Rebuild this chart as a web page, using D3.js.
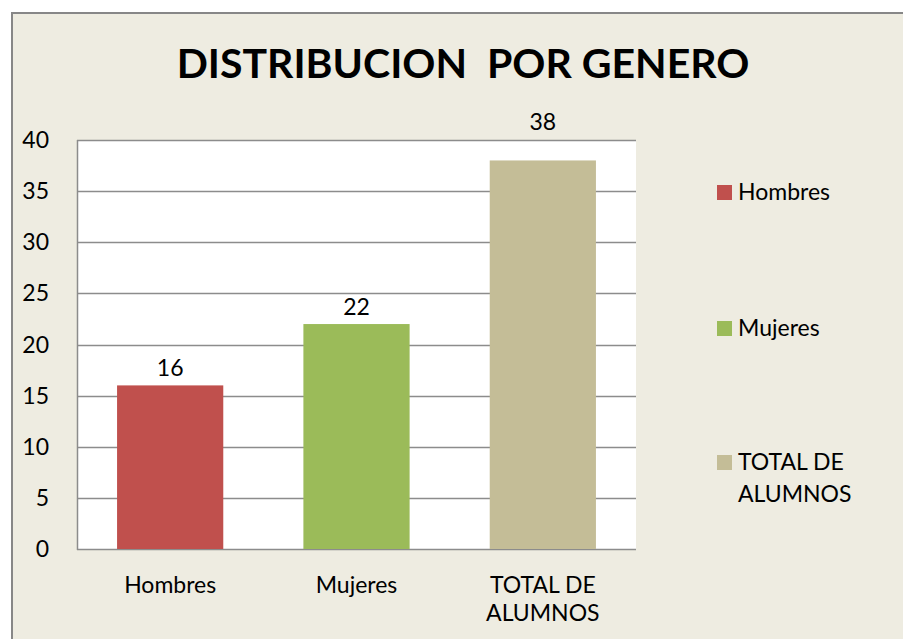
<!DOCTYPE html>
<html>
<head>
<meta charset="utf-8">
<script src="https://cdn.jsdelivr.net/npm/d3@7"></script>
<style>
  html, body { margin: 0; padding: 0; background: #fff; }
  svg { display: block; font-family: Lato, "Open Sans", sans-serif; }
</style>
</head>
<body>
<div id="chart"></div>
<script>
// data
const categories = ['Hombres', 'Mujeres', 'TOTAL DE ALUMNOS'];
const values = [16, 22, 38];
const colors = ['#C0504D', '#9BBB59', '#C4BD97'];
const yTicks = [0, 5, 10, 15, 20, 25, 30, 35, 40];
const title = 'DISTRIBUCION  POR GENERO';

const width = 903;
const height = 639;
const plot = {left: 77, right: 636, top: 140, bottom: 549};

const svg = d3.select('#chart')
    .append('svg')
    .attr('width', width)
    .attr('height', height);

// chart area background + border (runs off the right/bottom of the picture)
svg.append('rect')
    .attr('x', 12)
    .attr('y', 13)
    .attr('width', width + 10)
    .attr('height', height + 10)
    .attr('fill', '#EEECE1')
    .attr('stroke', '#878787')
    .attr('stroke-width', 2);

svg.append('text')
    .attr('x', 463)
    .attr('y', 78)
    .attr('text-anchor', 'middle')
    .attr('font-size', 41)
    .attr('font-weight', 'bold')
    .attr('fill', '#000')
    .style('white-space', 'pre')
    .text(title);

const x = d3.scaleBand()
    .domain(categories)
    .range([plot.left, plot.right])
    .paddingInner(0.43)
    .paddingOuter(0.215);

const y = d3.scaleLinear()
    .domain([0, 40])
    .range([plot.bottom, plot.top]);

// plot area
svg.append('rect')
    .attr('x', plot.left)
    .attr('y', plot.top)
    .attr('width', plot.right - plot.left)
    .attr('height', plot.bottom - plot.top)
    .attr('fill', '#fff');

// gridlines
svg.append('g')
    .selectAll('line')
    .data(yTicks)
    .join('line')
    .attr('x1', plot.left)
    .attr('x2', plot.right)
    .attr('y1', (d) => Math.round(y(d)) + 0.5)
    .attr('y2', (d) => Math.round(y(d)) + 0.5)
    .attr('stroke', '#8C8C8C')
    .attr('stroke-width', 1.5);

// left axis line
svg.append('line')
    .attr('x1', plot.left + 0.5)
    .attr('x2', plot.left + 0.5)
    .attr('y1', plot.top)
    .attr('y2', plot.bottom + 1)
    .attr('stroke', '#8C8C8C')
    .attr('stroke-width', 1.5);

// y tick labels
svg.append('g')
    .selectAll('text')
    .data(yTicks)
    .join('text')
    .attr('x', 49)
    .attr('y', (d) => y(d) + 8)
    .attr('text-anchor', 'end')
    .attr('font-size', 23)
    .attr('fill', '#000')
    .text((d) => d);

// bars
svg.append('g')
    .selectAll('rect')
    .data(values)
    .join('rect')
    .attr('x', (d, i) => x(categories[i]))
    .attr('y', (d) => y(d))
    .attr('width', x.bandwidth())
    .attr('height', (d) => y(0) - y(d))
    .attr('fill', (d, i) => colors[i]);

// value labels (pushed above the plot when they would cross its top edge)
const labelY = (d) => {
  const base = y(d) - 9;
  return base - 17 < plot.top ? plot.top - 10 : base;
};
svg.append('g')
    .selectAll('text')
    .data(values)
    .join('text')
    .attr('x', (d, i) => x(categories[i]) + x.bandwidth() / 2)
    .attr('y', labelY)
    .attr('text-anchor', 'middle')
    .attr('font-size', 23)
    .attr('fill', '#000')
    .text((d) => d);

// category labels
const catLines = (c) => c === 'TOTAL DE ALUMNOS' ? ['TOTAL DE', 'ALUMNOS'] : [c];
svg.append('g')
    .selectAll('text')
    .data(categories)
    .join('text')
    .attr('x', (d) => x(d) + x.bandwidth() / 2)
    .attr('y', 593)
    .attr('text-anchor', 'middle')
    .attr('font-size', 23)
    .attr('fill', '#000')
    .each(function(d) {
      d3.select(this).selectAll('tspan')
          .data(catLines(d))
          .join('tspan')
          .attr('x', x(d) + x.bandwidth() / 2)
          .attr('dy', (t, j) => j === 0 ? 0 : 28)
          .text((t) => t);
    });

// legend
const legendY = [192, 328, 462];
const legend = svg.append('g')
    .selectAll('g')
    .data(categories)
    .join('g')
    .attr('transform', (d, i) => `translate(717,${legendY[i]})`);

legend.append('rect')
    .attr('x', 0)
    .attr('y', -7)
    .attr('width', 15)
    .attr('height', 15)
    .attr('fill', (d, i) => colors[i]);

legend.append('text')
    .attr('x', 21)
    .attr('y', 8)
    .attr('font-size', 23)
    .attr('fill', '#000')
    .each(function(d) {
      d3.select(this).selectAll('tspan')
          .data(catLines(d))
          .join('tspan')
          .attr('x', 21)
          .attr('dy', (t, j) => j === 0 ? 0 : 32)
          .text((t) => t);
    });
</script>
</body>
</html>
